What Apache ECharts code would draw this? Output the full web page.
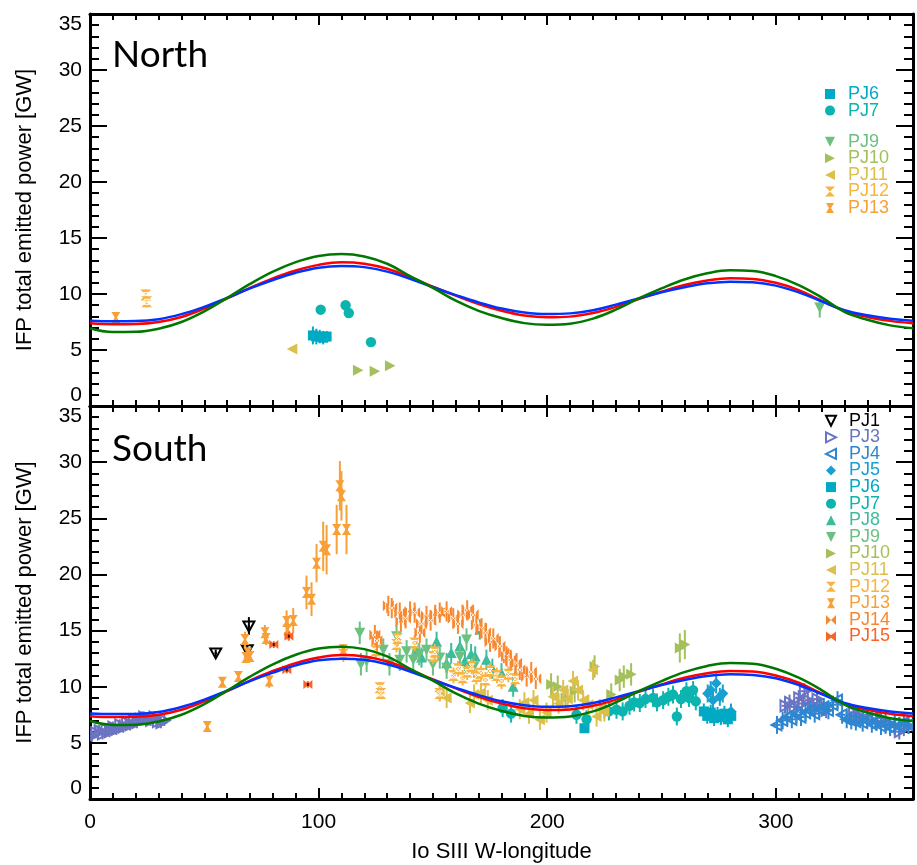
<!DOCTYPE html>
<html><head><meta charset="utf-8">
<script src="https://cdn.jsdelivr.net/npm/echarts@6/dist/echarts.min.js"></script>
<style>html,body{margin:0;padding:0;background:#fff}#c{width:917px;height:865px}</style>
</head><body><div id="c"></div>
<script>
// ---------- axis ticks ----------
const xMajorTicks = [0, 100, 200, 300];
const xRange = [0, 360];
const yMajorTicks = [0, 5, 10, 15, 20, 25, 30, 35];

// ---------- model curves (read every 10 deg) ----------
const modelLon   = [0,10,20,30,40,50,60,70,80,90,100,110,120,130,140,150,160,170,180,190,200,210,220,230,240,250,260,270,280,290,300,310,320,330,340,350,360];
const modelGreen = [6.94,6.60,6.62,6.9,7.5,8.45,9.65,10.9,12.0,12.85,13.4,13.57,13.35,12.7,11.6,10.55,9.4,8.5,7.85,7.4,7.26,7.35,7.8,8.6,9.6,10.5,11.3,11.85,12.12,12.05,11.6,10.8,9.7,8.4,7.7,7.2,6.94];
const modelRed   = [7.38,7.30,7.32,7.5,7.95,8.7,9.6,10.55,11.4,12.1,12.6,12.83,12.7,12.25,11.5,10.65,9.85,9.1,8.5,8.08,7.92,7.98,8.3,8.85,9.55,10.2,10.8,11.2,11.4,11.35,11.0,10.35,9.4,8.5,7.95,7.6,7.38];
const modelBlue  = [7.62,7.56,7.58,7.75,8.2,8.85,9.65,10.5,11.25,11.9,12.35,12.5,12.4,12.0,11.35,10.6,9.9,9.25,8.7,8.35,8.21,8.27,8.55,9.05,9.6,10.15,10.6,10.95,11.1,11.05,10.75,10.15,9.35,8.55,8.1,7.8,7.62];

// ---------- data: [lon, power, lonErr, powerErr] ----------
const northPJ6  = [[97.5,6.3,0.8,0.8],[99,6.2,0.8,0.7],[100.5,6.2,0.8,0.6],[102,6.1,0.8,0.6],[103.5,6.2,0.8,0.5]];
const northPJ7  = [[100.9,8.6,0.5,0.3],[111.8,9.0,0.5,0.4],[113.2,8.3,0.5,0.3],[122.9,5.7,0.5,0.3]];
const northPJ9  = [[319.2,8.8,0.3,0.9]];
const northPJ10 = [[117.2,3.2,0.5,0.2],[124.5,3.1,0.5,0.2],[131.2,3.6,0.5,0.2]];
const northPJ11 = [[88.5,5.1,0.5,0.2]];
const northPJ12 = [[24.4,9.9,0.4,0.5],[24.8,9.3,0.4,0.5]];
const northPJ13 = [[11.3,7.9,0.5,0.3]];

const southPJ1 = [[55,13.0,0.5,0.3],[69.5,15.4,0.5,0.8],[68.8,13.3,0.5,0.4]];
const southPJ3 = [[0.8,5.6,1.5,0.5],[2.5,5.9,1.5,0.5],[4,6.1,1.5,0.5],[5.5,5.8,1.5,0.5],[7,6.2,1.5,0.5],[8.5,6.0,1.5,0.5],[10,6.4,1.5,0.5],[11.5,6.2,1.5,0.5],[13,6.6,1.5,0.5],[14.5,6.4,1.5,0.5],[16,6.8,1.5,0.5],[17.5,6.6,1.5,0.5],[19,7.0,1.5,0.5],[20.5,6.8,1.5,0.5],[22,7.1,1.5,0.5],[23.5,7.3,1.5,0.5],[25,7.2,1.5,0.5],[26.5,7.0,1.5,0.5],[28,7.3,1.5,0.5],[29.5,6.9,1.5,0.5],[31,6.8,1.5,0.5],[32.5,7.0,1.5,0.5],
  [304,8.3,1.5,0.7],[306,8.6,1.5,0.7],[308,8.2,1.5,0.7],[310,9.0,1.5,0.7],[311.5,8.5,1.5,0.7],[312.5,9.6,1.5,0.7],[314,8.8,1.5,0.7],[316,8.4,1.5,0.7],[318,8.9,1.5,0.7],[320,8.3,1.5,0.7],[322,7.9,1.5,0.7],[334,7.7,1.5,0.7],[336,7.3,1.5,0.7],[338,7.2,1.5,0.7],[340,7.5,1.5,0.7],[342,7.0,1.5,0.7],[344,6.8,1.5,0.7],[346,7.2,1.5,0.7],[348,6.9,1.5,0.7],[350,6.6,1.5,0.7],[352,6.4,1.5,0.7],[354,6.0,1.5,0.7],[356,6.3,1.5,0.7],[358,6.5,1.5,0.7]];
const southPJ4 = [[300.5,6.6,1.5,0.8],[303,7.0,1.5,0.8],[305,7.3,1.5,0.8],[307,7.1,1.5,0.8],[309,7.5,1.5,0.8],[311,7.3,1.5,0.8],[313,7.7,1.5,0.8],[315,7.9,1.5,0.8],[317,7.6,1.5,0.8],[319,8.0,1.5,0.8],[321,8.2,1.5,0.8],[323,7.9,1.5,0.8],[325,8.4,1.5,0.8],[327,8.8,1.5,0.8],[329,7.5,1.5,0.8],[331,7.1,1.5,0.8],[333,7.0,1.5,0.8],[335,6.9,1.5,0.8],[338,6.8,1.5,0.8],[340,7.1,1.5,0.8],[342,6.7,1.5,0.8],[344,6.9,1.5,0.8],[346,6.5,1.5,0.8],[348,6.6,1.5,0.8],[350,6.4,1.5,0.8],[352,6.7,1.5,0.8],[354,6.5,1.5,0.8],[356,6.8,1.5,0.8],[358,6.6,1.5,0.8]];
const southPJ5 = [[270.2,9.4,1,0.8],[271.5,9.7,1,0.8],[272.5,8.8,1,0.8],[273.9,10.3,1,0.9],[275.5,9.1,1,0.8],[276.8,9.4,1,0.8],[280.4,7.8,1,0.7]];
const southPJ6 = [[216.3,6.3,1,0.4],[268.5,7.8,1,0.7],[270,7.4,1,0.7],[271.5,7.7,1,0.7],[273,7.2,1,0.7],[274.5,7.5,1,0.7],[276,7.3,1,0.7],[277.5,7.6,1,0.7],[279,7.1,1,0.7],[280.5,7.4,1,0.7]];
const southPJ7 = [[180.5,8.1,1,0.8],[184.2,7.6,1,0.8],[212.8,7.5,1,0.8],[217.2,7.1,1,0.8],[225,8.0,1,0.8],[227,7.8,1,0.8],[230.3,7.95,1,0.8],[233,7.8,1,0.8],[236,8.3,1,0.8],[238,8.6,1,0.8],[240.5,8.55,1,0.8],[243,8.9,1,0.8],[246.3,9.0,1,0.8],[248,8.6,1,0.8],[250.7,8.8,1,0.8],[253,9.1,1,0.8],[255,9.3,1,0.8],[256.7,7.35,1,0.8],[258.5,8.9,1,0.8],[260.9,9.6,1,0.8],[262,9.0,1,0.8],[263.8,9.7,1,0.8],[265,8.7,1,0.8]];
const southPJ8 = [[142.8,13.3,1,0.9],[145,12.6,1,0.9],[151.6,14.0,1,0.9],[156,12.1,1,0.9],[158,13.0,1,0.9],[161.8,13.6,1,0.9],[164,12.3,1,0.9],[166.7,12.9,1,0.9],[168.5,12.7,1,0.9],[170.5,15.1,1,0.9],[173.4,12.4,1,0.9],[176,11.6,1,0.9],[180,11.2,1,0.9],[185.1,10.0,1,0.9]];
const southPJ9 = [[118,14.8,1,1.0],[118.5,12.0,1,1.0],[121,12.3,1,1.0],[128.3,13.3,1,1.0],[131,12.0,1,1.0],[134.1,14.5,1,1.0],[135.5,12.4,1,1.0],[138.5,13.15,1,1.0],[141.4,12.4,1,1.0],[144,12.9,1,1.0],[147.2,13.3,1,1.0],[150,12.0,1,1.0],[153,12.6,1,1.0],[156,11.7,1,1.0],[161.8,12.7,1,1.0],[164.7,14.2,1,1.0],[168,11.8,1,1.0]];
const southPJ10 = [[201.7,10.2,1.2,1.0],[204.6,10.0,1.2,1.0],[208,9.0,1.2,1.0],[212,9.6,1.2,1.0],[220.7,11.8,1.2,1.0],[228,9.3,1.2,1.0],[231.7,10.6,1.2,1.0],[233.5,10.9,1.2,1.0],[236.7,11.1,1.2,1.0],[258,13.45,1.2,1.3],[260.2,13.75,1.2,1.3]];
const southPJ11 = [[153,9.6,1.2,0.9],[156,9.0,1.2,0.9],[166.2,8.55,1.2,0.9],[168,9.3,1.2,0.9],[171,9.45,1.2,0.9],[174,8.8,1.2,0.9],[188,8.0,1.2,0.9],[190,8.6,1.2,0.9],[192,7.6,1.2,0.9],[194,8.8,1.2,0.9],[196.8,7.05,1.2,0.9],[199.7,7.7,1.2,0.9],[202.5,9.1,1.2,0.9],[205,8.5,1.2,0.9],[207,9.7,1.2,0.9],[209,8.9,1.2,0.9],[211.3,10.5,1.2,0.9],[213.5,9.7,1.2,0.9],[215.7,8.8,1.2,0.9],[218,8.4,1.2,0.9],[220,11.5,1.2,0.9],[221.6,7.35,1.2,0.9],[223,8.0,1.2,0.9],[225,7.8,1.2,0.9]];
const southPJ12 = [[110.8,12.9,1,0.7],[125,13.2,1,0.7],[126.8,9.9,1,0.5],[127.2,9.4,1,0.5],[134.1,13.75,1,0.7],[134.5,14.3,1,0.7],[142,13.9,1,0.7],[150.1,12.7,1,0.7],[150.8,13.1,1,0.7],[153,9.4,1,0.7],[159,11.0,1,0.7],[161,11.6,1,0.7],[163,10.8,1,0.7],[165,11.3,1,0.7],[167,11.8,1,0.7],[169,10.9,1,0.7],[171,11.2,1,0.7],[173,10.6,1,0.7],[175,11.4,1,0.7],[178,11.0,1,0.7],[180,10.5,1,0.7],[183,11.1,1,0.7],[186,10.7,1,0.7]];
const southPJ13 = [[51.3,6.46,0.5,0.3],[57.9,10.4,0.5,0.4],[64.9,10.9,0.5,0.4],[67.8,14.2,0.5,0.7],[68.2,12.6,0.5,0.5],[69,13.0,0.5,0.5],[70,12.7,0.5,0.5],[76.5,14.8,0.5,0.7],[77,14.3,0.5,0.6],[78.4,10.5,0.5,0.6],[86,15.8,0.5,1.0],[88.9,15.9,0.5,1.1],[86.5,15.1,0.5,0.9],[94.7,18.4,0.5,1.5],[96.9,17.8,0.5,1.5],[99.1,21.0,0.5,1.7],[102,22.5,0.5,2.2],[103.5,22.2,0.5,2.2],[107.9,24.0,0.5,2.2],[109.3,27.9,0.5,2.2],[110,27.0,0.5,2.2],[112.2,24.0,0.5,2.2],[110.8,13.3,0.5,0.5]];
const southPJ14 = [[124.6,14.6,1,0.9],[125.5,14.1,1,0.9],[130.5,17.2,1,0.9],[132,17.0,1,0.9],[135.5,16.6,1,0.9],[136,15.8,1,0.9],[138,16.1,1,0.9],[140,16.7,1,0.9],[142,16.6,1,0.9],[144.3,14.8,1,0.9],[145,15.6,1,0.9],[147.2,16.3,1,0.9],[149,15.9,1,0.9],[151,16.4,1,0.9],[153,16.6,1,0.9],[156,16.7,1,0.9],[158.9,16.1,1,0.9],[161,15.6,1,0.9],[163,16.4,1,0.9],[165,16.8,1,0.9],[167.6,16.4,1,0.9],[169,15.5,1,0.9],[171.3,15.2,1,0.9],[173,14.8,1,0.9],[175,14.0,1,0.9],[176.4,14.3,1,0.9],[179.3,13.6,1,0.9],[181,13.0,1,0.9],[182.2,12.7,1,0.9],[184,12.4,1,0.9],[186.6,12.1,1,0.9],[188,11.5,1,0.9],[191,10.9,1,0.9],[193,11.3,1,0.9],[195,10.7,1,0.9]];
const southPJ15 = [[80.4,13.75,1,0.3],[86.1,11.5,1,0.3],[87,14.5,1,0.4],[95.3,10.2,1,0.3]];

// ---------- styles ----------
const STY = {
  PJ1:  {color:'#000000', shape:'openDown'},
  PJ3:  {color:'#6a74c2', shape:'openRight'},
  PJ4:  {color:'#2e86d0', shape:'openLeft'},
  PJ5:  {color:'#18a0d0', shape:'diamond'},
  PJ6:  {color:'#00aac4', shape:'square'},
  PJ7:  {color:'#0cb4b0', shape:'circle'},
  PJ8:  {color:'#3cbc9c', shape:'up'},
  PJ9:  {color:'#6cc080', shape:'down'},
  PJ10: {color:'#a4c05c', shape:'right'},
  PJ11: {color:'#dcc04c', shape:'left'},
  PJ12: {color:'#f8b440', shape:'hour12'},
  PJ13: {color:'#f8a038', shape:'hour13'},
  PJ14: {color:'#f88830', shape:'bow14'},
  PJ15: {color:'#f86428', shape:'bow15'}
};
const ICONS = {
  openDown:'path://M0,0L10,0L5,10Z', openRight:'path://M0,0L10,5L0,10Z', openLeft:'path://M10,0L0,5L10,10Z',
  diamond:'path://M5,0L10,5L5,10L0,5Z', square:'rect', circle:'circle', up:'path://M5,0L10,10L0,10Z',
  down:'path://M0,0L10,0L5,10Z', right:'path://M0,0L10,5L0,10Z', left:'path://M10,0L0,5L10,10Z',
  hour12:'path://M0,0L10,0L0,10L10,10Z', hour13:'path://M1,0L9,0L6,5L9,10L1,10L4,5Z',
  bow14:'path://M0,0L0,10L10,0L10,10Z', bow15:'path://M1,1L5,4L9,1L9,9L5,6L1,9Z'
};

function poly(pts, cx, cy, style) {
  return {type:'polygon', shape:{points: pts.map(p => [cx + p[0], cy + p[1]])}, style};
}
function marker(shape, cx, cy, color) {
  const F = {fill: color}, O = {fill:'none', stroke: color, lineWidth: 2};
  const W = {fill:'none', stroke:'#ffffff', lineWidth: 1};
  switch (shape) {
    case 'openDown': return [poly([[-5.5,-4.5],[5.5,-4.5],[0,5.5]], cx, cy, O)];
    case 'openRight': return [poly([[-4.5,-5.5],[5.5,0],[-4.5,5.5]], cx, cy, O)];
    case 'openLeft': return [poly([[4.5,-5.5],[-5.5,0],[4.5,5.5]], cx, cy, O)];
    case 'diamond': return [poly([[0,-5.5],[5.5,0],[0,5.5],[-5.5,0]], cx, cy, F)];
    case 'square': return [{type:'rect', shape:{x:cx-5, y:cy-5, width:10, height:10}, style:F}];
    case 'circle': return [{type:'circle', shape:{cx, cy, r:5.2}, style:F}];
    case 'up': return [poly([[0,-5.5],[5.5,5],[-5.5,5]], cx, cy, F)];
    case 'down': return [poly([[-5.5,-5],[5.5,-5],[0,5.5]], cx, cy, F)];
    case 'right': return [poly([[-5,-5.5],[5.5,0],[-5,5.5]], cx, cy, F)];
    case 'left': return [poly([[5,-5.5],[-5.5,0],[5,5.5]], cx, cy, F)];
    case 'hour12': return [poly([[-5.5,-5.5],[5.5,-5.5],[-5.5,5.5],[5.5,5.5]], cx, cy, F), poly([[-2.5,-2.5],[2.5,-2.5],[-2.5,2.5],[2.5,2.5]], cx, cy, W)];
    case 'hour13': return [poly([[-4.5,-5.5],[4.5,-5.5],[1,0],[4.5,5.5],[-4.5,5.5],[-1,0]], cx, cy, F)];
    case 'bow14': return [poly([[-5.5,-5.5],[-5.5,5.5],[5.5,-5.5],[5.5,5.5]], cx, cy, F), poly([[-2.5,-2.5],[-2.5,2.5],[2.5,-2.5],[2.5,2.5]], cx, cy, W)];
    case 'bow15': return [poly([[-4.5,-4.5],[0,-1],[4.5,-4.5],[4.5,4.5],[0,1],[-4.5,4.5]], cx, cy, F), {type:'rect', shape:{x:cx-1, y:cy-1.5, width:2, height:3}, style:{fill:'#401000'}}];
  }
  return [];
}
function makeRender(shape, color) {
  return function (params, api) {
    const x = api.value(0), y = api.value(1), ex = api.value(2), ey = api.value(3);
    const c = api.coord([x, y]);
    const l = api.coord([x - ex, y]), r = api.coord([x + ex, y]);
    const t = api.coord([x, y + ey]), b = api.coord([x, y - ey]);
    const children = [
      {type:'line', shape:{x1:c[0], y1:t[1], x2:c[0], y2:b[1]}, style:{stroke:color, lineWidth:2}},
      {type:'line', shape:{x1:l[0], y1:c[1], x2:r[0], y2:c[1]}, style:{stroke:color, lineWidth:2}}
    ].concat(marker(shape, c[0], c[1], color));
    return {type:'group', children};
  };
}

const northSets = {PJ6:northPJ6, PJ7:northPJ7, PJ9:northPJ9, PJ10:northPJ10, PJ11:northPJ11, PJ12:northPJ12, PJ13:northPJ13};
const southSets = {PJ1:southPJ1, PJ3:southPJ3, PJ4:southPJ4, PJ5:southPJ5, PJ6:southPJ6, PJ7:southPJ7, PJ8:southPJ8, PJ9:southPJ9, PJ10:southPJ10, PJ11:southPJ11, PJ12:southPJ12, PJ13:southPJ13, PJ14:southPJ14, PJ15:southPJ15};

const FONT = 'Liberation Sans, Arial, Helvetica, sans-serif';
const series = [];
function addPoints(sets, gi) {
  Object.keys(sets).forEach((name, k) => {
    const s = STY[name];
    series.push({
      type:'custom', name, xAxisIndex: gi*4, yAxisIndex: gi*2, clip: true, z: 2 + k*0.01,
      itemStyle:{color: s.color}, encode:{x:0, y:1},
      renderItem: makeRender(s.shape, s.color), data: sets[name]
    });
  });
}
addPoints(northSets, 0);
addPoints(southSets, 1);
[[modelRed,'#ff0000'],[modelBlue,'#0033ff'],[modelGreen,'#007800']].forEach(([vals, col], k) => {
  [0,1].forEach(gi => series.push({
    type:'line', name:'model'+k, xAxisIndex: gi*4, yAxisIndex: gi*2, smooth: 0.4, showSymbol:false,
    silent:true, z: 5+k, lineStyle:{color: col, width: 2.5}, data: modelLon.map((l,i)=>[l, vals[i]])
  }));
});

const xMajorInt = xMajorTicks[1] - xMajorTicks[0];
function xAxes(gi) {
  const base = {gridIndex: gi, type:'value', min: xRange[0], max: xRange[1], splitLine:{show:false}};
  const major = (pos) => Object.assign({}, base, {
    position: pos, interval: xMajorInt,
    axisLine:{show:true, onZero:false, lineStyle:{color:'#000', width:3}},
    axisTick:{show:true, inside:true, length:11, lineStyle:{color:'#000', width:2}},
    axisLabel:{show: gi===1 && pos==='bottom', showMaxLabel:false, margin:13, fontSize:21, color:'#000', fontFamily:FONT},
    name: (gi===1 && pos==='bottom') ? 'Io SIII W-longitude' : '', nameLocation:'middle', nameGap:42,
    nameTextStyle:{fontSize:22, color:'#000', fontFamily:FONT}
  });
  const minor = (pos) => Object.assign({}, base, {
    position: pos, interval: xMajorInt/10,
    axisLine:{show:false, onZero:false}, axisLabel:{show:false},
    axisTick:{show:true, inside:true, length:6, lineStyle:{color:'#000', width:2}}
  });
  return [major('bottom'), minor('bottom'), major('top'), minor('top')];
}
function yAxes(gi) {
  const mk = (pos) => ({
    gridIndex: gi, type:'value', position: pos, min: yMajorTicks[0], max: yMajorTicks[yMajorTicks.length-1],
    interval: yMajorTicks[1]-yMajorTicks[0], splitLine:{show:false},
    axisLine:{show:true, onZero:false, lineStyle:{color:'#000', width:3}},
    axisTick:{show:true, inside:true, length:17, lineStyle:{color:'#000', width:2}},
    minorTick:{show:true, splitNumber:5, length:9, lineStyle:{color:'#000', width:2}},
    axisLabel:{show: pos==='left', margin:8, fontSize:21, color:'#000', fontFamily:FONT,
      verticalAlignMinLabel:'bottom', verticalAlignMaxLabel:'top'},
    name: pos==='left' ? 'IFP total emitted power [GW]' : '', nameLocation:'middle', nameGap:54,
    nameTextStyle:{fontSize:22, color:'#000', fontFamily:FONT}
  });
  return [mk('left'), mk('right')];
}

function legendItem(name) {
  const s = STY[name];
  const open = s.shape.indexOf('open') === 0;
  return {name, icon: ICONS[s.shape],
    itemStyle: open ? {color:'rgba(0,0,0,0)', borderColor:s.color, borderWidth:2} : {color:s.color, borderWidth:0},
    textStyle:{color:s.color}};
}
function legend(names, top) {
  return {show:true, orient:'vertical', left:825, top, itemWidth:10, itemHeight:10, itemGap:-1.4,
    selectedMode:false, padding:0,
    textStyle:{fontSize:18, fontFamily:FONT, padding:[0,0,0,8]},
    data: names.map(legendItem)};
}

const option = {
  animation:false, backgroundColor:'#ffffff',
  grid:[{left:90, right:4, top:14, height:392}, {left:90, right:4, top:406, height:393}],
  xAxis: xAxes(0).concat(xAxes(1)),
  yAxis: yAxes(0).concat(yAxes(1)),
  title:[
    {text:'North', left:112, top:37, padding:0, textStyle:{fontFamily:'Lato', fontSize:37, fontWeight:'normal', color:'#000'}},
    {text:'South', left:112, top:431, padding:0, textStyle:{fontFamily:'Lato', fontSize:37, fontWeight:'normal', color:'#000'}}
  ],
  legend:[
    legend(['PJ6','PJ7'], 85),
    legend(['PJ9','PJ10','PJ11','PJ12','PJ13'], 132.7),
    legend(['PJ1','PJ3','PJ4','PJ5','PJ6','PJ7','PJ8','PJ9','PJ10','PJ11','PJ12','PJ13','PJ14','PJ15'], 411.7)
  ],
  series
};
const chart = echarts.init(document.getElementById('c'), null, {renderer:'canvas'});
chart.setOption(option);
</script></body></html>
